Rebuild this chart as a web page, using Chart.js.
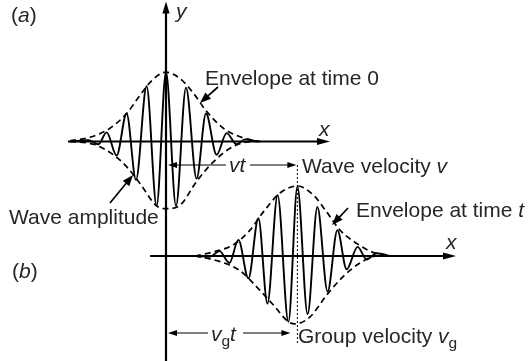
<!DOCTYPE html>
<html>
<head>
<meta charset="utf-8">
<script src="https://cdn.jsdelivr.net/npm/chart.js@4/dist/chart.umd.min.js"></script>
<style>
  html, body { margin: 0; padding: 0; background: #fff; }
  #wrap { width: 532px; height: 361px; }
</style>
</head>
<body>
<div id="wrap"><canvas id="chart_packet"></canvas></div>
<script>
// x: distance from the y axis in carrier wavelengths, y: fraction of peak amplitude

// (a) wave packet at time 0 (peaks and troughs)
var waveAx = [-4.8, -3.88, -3.38, -2.97, -2.47, -1.97, -1.5, -0.97, -0.47, 0, 0.5, 1.0, 1.53, 2.0, 2.53, 3.03, 3.53, 3.95, 4.6];
var waveAy = [0, 0.02, -0.04, 0.13, -0.20, 0.40, -0.55, 0.79, -0.92, 0.99, -0.92, 0.77, -0.53, 0.40, -0.19, 0.12, -0.04, 0.03, 0];

// (a) envelope at time 0
var envATopX = [-4.8, -3.8, -2.8, -1.97, -1.3, -0.64, 0, 0.7, 1.37, 2.03, 2.87, 3.87, 4.7];
var envATopY = [0.01, 0.06, 0.19, 0.40, 0.66, 0.89, 0.99, 0.90, 0.69, 0.43, 0.19, 0.05, 0];
var envABotX = [-4.8, -3.63, -2.63, -1.97, -1.3, -0.47, 0.03, 0.7, 1.53, 2.37, 3.37, 4.37, 4.85];
var envABotY = [0, -0.04, -0.19, -0.36, -0.60, -0.92, -0.96, -0.91, -0.57, -0.29, -0.07, 0, 0];

// (b) wave packet at time t
var waveBx = [1.45, 2.2, 2.67, 3.17, 3.62, 4.12, 4.62, 5.07, 5.58, 6.12, 6.57, 7.08, 7.57, 8.08, 8.57, 9.03, 9.58, 10.03, 10.53, 11.2];
var waveBy = [0, -0.01, 0.07, -0.10, 0.23, -0.32, 0.54, -0.68, 0.87, -0.94, 0.99, -0.83, 0.70, -0.51, 0.37, -0.19, 0.13, -0.05, 0.04, 0];

// (b) envelope at time t
var envBTopX = [1.45, 2.37, 3.37, 4.2, 4.87, 5.7, 6.57, 7.37, 8.03, 8.7, 9.53, 10.37, 11.2];
var envBTopY = [0, 0.06, 0.16, 0.37, 0.63, 0.90, 1.0, 0.87, 0.63, 0.37, 0.18, 0.05, 0.01];
var envBBotX = [1.45, 2.7, 3.7, 4.53, 5.37, 6.12, 6.45, 7.2, 8.03, 8.87, 9.7, 10.53, 11.2];
var envBBotY = [0, -0.08, -0.21, -0.44, -0.70, -0.94, -0.97, -0.87, -0.56, -0.29, -0.10, 0, 0];

// ends of the drawn axes
var axisAx = [-4.9, 8.2];
var axisBx = [-0.8, 14.5];
var groupPeakX = 6.57;

function pts(xs, ys) {
    return xs.map((x, i) => ({ x: x, y: ys[i] }));
}

function wave(xs, ys, axis) {
    return {
        data: pts(xs, ys), yAxisID: axis,
        borderColor: '#000', borderWidth: 1.9,
        cubicInterpolationMode: 'monotone', pointRadius: 0, fill: false
    };
}

function envelope(xs, ys, axis) {
    return {
        data: pts(xs, ys), yAxisID: axis,
        borderColor: '#000', borderWidth: 1.7, borderDash: [6, 4],
        cubicInterpolationMode: 'monotone', pointRadius: 0, fill: false
    };
}

function arrow(ctx, x1, y1, x2, y2, len, half, lw) {
    var a = Math.atan2(y2 - y1, x2 - x1);
    ctx.lineWidth = lw;
    ctx.beginPath();
    ctx.moveTo(x1, y1);
    ctx.lineTo(x2 - Math.cos(a) * len * 0.8, y2 - Math.sin(a) * len * 0.8);
    ctx.stroke();
    ctx.beginPath();
    ctx.moveTo(x2, y2);
    ctx.lineTo(x2 - Math.cos(a) * len - Math.sin(a) * half, y2 - Math.sin(a) * len + Math.cos(a) * half);
    ctx.lineTo(x2 - Math.cos(a) * len + Math.sin(a) * half, y2 - Math.sin(a) * len - Math.cos(a) * half);
    ctx.closePath();
    ctx.fill();
}

// runs of [text, italic, subscript]
function rich(ctx, x, y, runs) {
    runs.forEach(r => {
        var size = r[2] ? 15.5 : 21;
        ctx.font = (r[1] ? 'italic ' : '') + size + 'px "Liberation Sans", Arial, sans-serif';
        ctx.fillText(r[0], x, y + (r[2] ? 5 : 0));
        x += ctx.measureText(r[0]).width;
    });
}

var decorations = {
    id: 'decorations',
    afterDatasetsDraw(chart) {
        var ctx = chart.ctx, s = chart.scales;
        var x0 = s.x.getPixelForValue(0);
        var ya0 = s.ya.getPixelForValue(0);
        var yb0 = s.yb.getPixelForValue(0);
        ctx.save();
        ctx.strokeStyle = '#000';
        ctx.fillStyle = '#000';

        // axes
        arrow(ctx, x0, 361, x0, 1.5, 12, 3.6, 2.2);
        arrow(ctx, s.x.getPixelForValue(axisAx[0]), ya0, s.x.getPixelForValue(axisAx[1]), ya0, 13, 3.6, 2.2);
        arrow(ctx, s.x.getPixelForValue(axisBx[0]), yb0, s.x.getPixelForValue(axisBx[1]), yb0, 13, 3.6, 2.2);

        // dotted line through the group peak
        var gx = s.x.getPixelForValue(groupPeakX);
        ctx.lineWidth = 1;
        ctx.setLineDash([2, 2]);
        ctx.beginPath();
        ctx.moveTo(gx, 165);
        ctx.lineTo(gx, 345);
        ctx.stroke();
        ctx.setLineDash([]);

        // vt and vg t dimension arrows
        arrow(ctx, 226, 165, x0 + 2, 165, 9, 3, 1.1);
        arrow(ctx, 250, 165, gx - 1, 165, 9, 3, 1.1);
        arrow(ctx, 208, 333, x0 + 2, 333, 9, 3, 1.1);
        arrow(ctx, 243, 333, gx - 7, 333, 9, 3, 1.1);

        // pointer arrows
        arrow(ctx, 110, 203, 133, 175, 11, 4.2, 1.7);
        arrow(ctx, 218, 87, 200, 103, 11, 4.2, 1.7);
        arrow(ctx, 348, 208, 332, 225, 11, 4.2, 1.7);

        // text
        ctx.fillStyle = '#262626';
        ctx.textBaseline = 'alphabetic';
        rich(ctx, 11, 22, [['(', false], ['a', true], [')', false]]);
        rich(ctx, 12, 278, [['(', false], ['b', true], [')', false]]);
        rich(ctx, 176, 18, [['y', true]]);
        rich(ctx, 319, 136, [['x', true]]);
        rich(ctx, 446, 249, [['x', true]]);
        rich(ctx, 205, 85, [['Envelope at time 0', false]]);
        rich(ctx, 9, 224, [['Wave amplitude', false]]);
        rich(ctx, 229, 172, [['vt', true]]);
        rich(ctx, 302, 173, [['Wave velocity ', false], ['v', true]]);
        rich(ctx, 356, 217, [['Envelope at time ', false], ['t', true]]);
        rich(ctx, 211, 341, [['v', true], ['g', false, true], ['t', true]]);
        rich(ctx, 298, 343, [['Group velocity ', false], ['v', true], ['g', false, true]]);
        ctx.restore();
    }
};

document.chartPacket = new Chart(document.getElementById('chart_packet'), {
    type: 'line',
    data: {
        datasets: [
            envelope(envATopX, envATopY, 'ya'),
            envelope(envABotX, envABotY, 'ya'),
            wave(waveAx, waveAy, 'ya'),
            envelope(envBTopX, envBTopY, 'yb'),
            envelope(envBBotX, envBBotY, 'yb'),
            wave(waveBx, waveBy, 'yb')
        ]
    },
    options: {
        responsive: true,
        maintainAspectRatio: false,
        animation: false,
        layout: { padding: 0 },
        plugins: {
            legend: { display: false },
            tooltip: { enabled: false }
        },
        scales: {
            x: { type: 'linear', min: -8.3, max: 18.3, display: false },
            ya: { type: 'linear', min: -3.1357, max: 2.0214, display: false },
            yb: { type: 'linear', min: -1.5, max: 3.6571, display: false }
        }
    },
    plugins: [decorations]
});
</script>
</body>
</html>
